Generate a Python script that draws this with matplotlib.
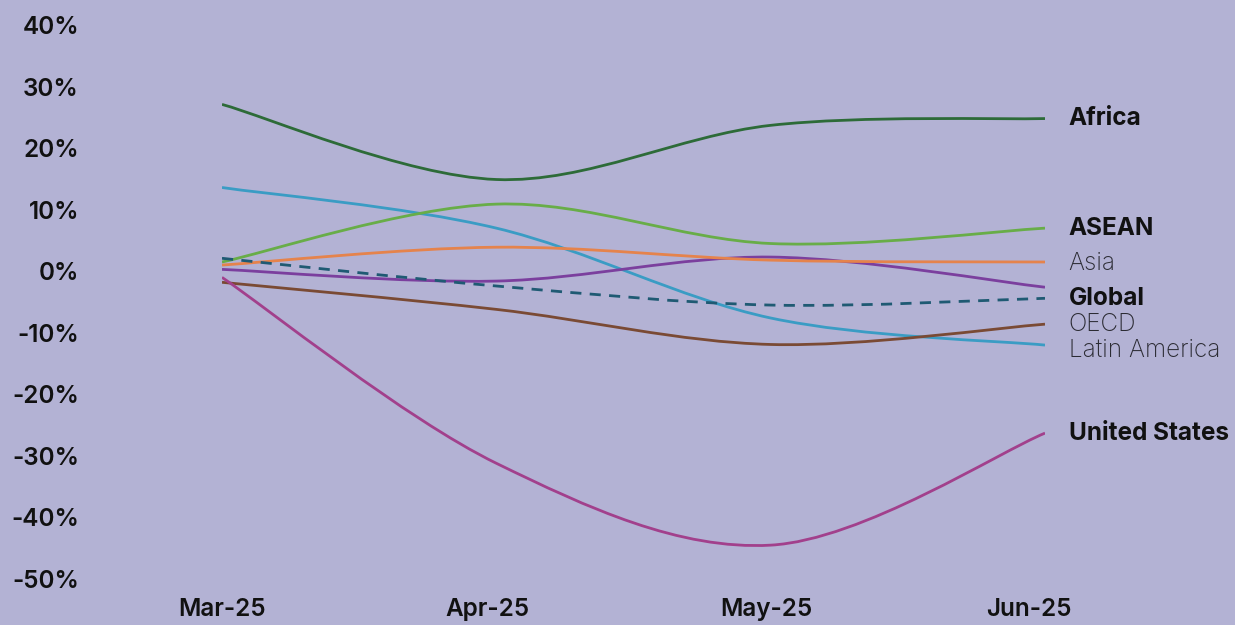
import matplotlib
matplotlib.use("Agg")
import matplotlib.pyplot as plt
from matplotlib.path import Path
from matplotlib.patches import PathPatch
import numpy as np

plt.rcParams['font.family'] = ['Inter', 'DejaVu Sans']

months = ['Mar-25', 'Apr-25', 'May-25', 'Jun-25']

# monthly change, %
africa = [27.1, 14.9, 23.7, 24.8]
asean = [1.5, 10.9, 4.5, 7.0]
asia = [1.0, 3.9, 1.8, 1.5]
latin_america = [13.6, 7.0, -7.6, -12.0]
global_ = [2.1, -2.4, -5.5, -4.4]
other = [0.3, -1.6, 2.3, -2.6]
oecd = [-1.8, -6.2, -11.9, -8.6]
united_states = [-1.0, -31.2, -44.5, -26.3]

bg = '#b3b2d4'

# name, values, colour, style, label weight, label colour, label nudge (pt)
series = [
    ('Latin America', latin_america, '#3a9cc4', '-', 'light', '#2b2b33', -4),
    ('OECD', oecd, '#7a4a34', '-', 'light', '#2b2b33', 0),
    ('', other, '#7b3f9e', '-', None, None, 0),
    ('Asia', asia, '#e5834c', '-', 'light', '#2b2b33', -1),
    ('ASEAN', asean, '#68ad48', '-', 'bold', '#111111', 0),
    ('Global', global_, '#1f5a73', (0, (4, 3)), 'bold', '#111111', 0),
    ('Africa', africa, '#2d6b38', '-', 'bold', '#111111', 0),
    ('United States', united_states, '#a2408c', '-', 'bold', '#111111', 0),
]

# month label nudges in points
month_dx = [0, -6.5, -3, -11.5]


def smooth_path(xs, ys):
    # cubic bezier through every point, tangents from neighbours
    pts = np.column_stack([xs, ys]).astype(float)
    n = len(pts)
    verts = [pts[0]]
    codes = [Path.MOVETO]
    for i in range(n - 1):
        p_prev = pts[max(i - 1, 0)]
        p0 = pts[i]
        p1 = pts[i + 1]
        p_next = pts[min(i + 2, n - 1)]
        c1 = p0 + (p1 - p_prev) / 6.0
        c2 = p1 - (p_next - p0) / 6.0
        verts += [c1, c2, p1]
        codes += [Path.CURVE4] * 3
    return Path(verts, codes)


fig = plt.figure(figsize=(12.35, 6.25), dpi=100, facecolor=bg)
ax = fig.add_axes([222 / 1235, 46 / 625, 823 / 1235, 554 / 625])
ax.set_facecolor(bg)

x = np.arange(len(months))
for name, vals, col, ls, weight, tcol, dy in series:
    patch = PathPatch(smooth_path(x, vals), facecolor='none', edgecolor=col,
                      lw=2.0, linestyle=ls, capstyle='butt')
    ax.add_patch(patch)
    if name:
        ax.annotate(name, xy=(x[-1], vals[-1]), xytext=(17, dy),
                    textcoords='offset points', ha='left', va='center',
                    fontsize=17.5, fontweight=weight, color=tcol,
                    annotation_clip=False)

ax.set_xlim(0, 3)
ax.set_ylim(-50, 40)
ax.set_xticks(x)
ax.set_xticklabels([])
for xi, m, dx in zip(x, months, month_dx):
    ax.annotate(m, xy=(xi, 0), xycoords=ax.get_xaxis_transform(),
                xytext=(dx, -22), textcoords='offset points',
                ha='center', va='center', fontsize=17.5,
                fontweight='semibold', color='#111111',
                annotation_clip=False)
ax.set_yticks(np.arange(-50, 41, 10))
ax.set_yticklabels([f'{v}%' for v in range(-50, 41, 10)])
ax.tick_params(length=0, labelsize=17.5, labelcolor='#111111')
ax.tick_params(axis='y', pad=103)
for lab in ax.get_yticklabels():
    lab.set_fontweight('semibold')
for s in ax.spines.values():
    s.set_visible(False)

fig.savefig('out.png', dpi=100, facecolor=bg)
